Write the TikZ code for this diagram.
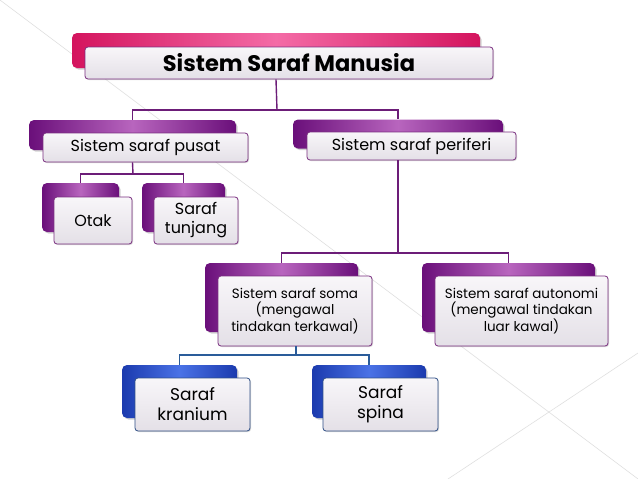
\documentclass[tikz,border=0pt]{standalone}
\usepackage{fontspec}
\setmainfont{Poppins}
\usetikzlibrary{shadows}
\definecolor{pinkD}{HTML}{D4145E}
\definecolor{pinkL}{HTML}{F46BA6}
\definecolor{purD}{HTML}{6A0F7A}
\definecolor{purL}{HTML}{B865BE}
\definecolor{bluD}{HTML}{1B3AAE}
\definecolor{bluL}{HTML}{4A72E6}
\definecolor{edgeP}{HTML}{7A2F80}
\definecolor{edgeB}{HTML}{2F4F86}
\definecolor{connP}{HTML}{6C1D78}
\definecolor{connB}{HTML}{2A5C9A}
\definecolor{faceT}{HTML}{F8F6F9}
\definecolor{faceB}{HTML}{E4E0E7}
\begin{document}
\begin{tikzpicture}[x=1pt,y=-1pt,
  backbox/.style={rounded corners=5pt, inner sep=0pt,
    drop shadow={opacity=0.35, shadow xshift=1.5pt, shadow yshift=-1.5pt}},
  backpink/.style={backbox, left color=pinkD, right color=pinkD, middle color=pinkL},
  backpur/.style={backbox, left color=purD, right color=purD, middle color=purL},
  backblu/.style={backbox, left color=bluD, right color=bluD, middle color=bluL},
  frontbox/.style={rounded corners=3pt, inner sep=0pt, top color=faceT, bottom color=faceB,
    draw=edgeP, line width=0.8pt, align=center, text=black,
    drop shadow={opacity=0.3, shadow xshift=1pt, shadow yshift=-1pt}},
  frontblu/.style={frontbox, draw=edgeB},
  ttl/.style={font=\fontsize{22.5}{24}\selectfont\bfseries},
  lvl/.style={font=\fontsize{16}{19}\selectfont},
  lvlb/.style={font=\fontsize{17}{20}\selectfont},
  sml/.style={font=\fontsize{13.5}{16}\selectfont},
  conn/.style={draw=connP, line width=1.4pt},
  connb/.style={draw=connB, line width=1.4pt}]
\useasboundingbox (0,0) rectangle (638,479);
\fill[white] (0,0) rectangle (638,479);
% faint background lines
\coordinate (bgA) at (0,0);
\coordinate (bgB) at (638,479);
\coordinate (bgC) at (638,353);
\coordinate (bgD) at (448,479);
\draw[black!12, line width=0.6pt] (bgA) -- (bgB);
\draw[black!12, line width=0.6pt] (bgC) -- (bgD);

% back boxes
\node[backpink, minimum width=408pt, minimum height=35pt] (titleB) at (276,50.5) {};
\node[backpur, minimum width=207pt, minimum height=30pt] (pusatB) at (132.5,135) {};
\node[backpur, minimum width=210pt, minimum height=29pt] (periB) at (398,134) {};
\node[backpur, minimum width=77pt, minimum height=49pt] (otakB) at (80.5,207.5) {};
\node[backpur, minimum width=83pt, minimum height=49pt] (tunB) at (183.5,207.5) {};
\node[backpur, minimum width=153pt, minimum height=69pt] (somaB) at (281.5,297.5) {};
\node[backpur, minimum width=173pt, minimum height=69pt] (autoB) at (508.5,297.5) {};
\node[backblu, minimum width=115pt, minimum height=53pt] (kranB) at (179.5,391.5) {};
\node[backblu, minimum width=114pt, minimum height=53pt] (spinB) at (369,391.5) {};

% front boxes
\node[frontbox, ttl, minimum width=408pt, minimum height=32pt] (title) at (289,63) {Sistem Saraf Manusia};
\node[frontbox, lvl, minimum width=205pt, minimum height=29pt] (pusat) at (145.5,147.5) {Sistem saraf pusat};
\node[frontbox, lvl, minimum width=209pt, minimum height=28pt] (peri) at (411.5,146) {Sistem saraf periferi};
\node[frontbox, lvl, minimum width=78pt, minimum height=47pt] (otak) at (93,220.5) {Otak};
\node[frontbox, lvl, minimum width=84pt, minimum height=47pt] (tun) at (196,220.5) {Saraf\\tunjang};
\node[frontbox, sml, minimum width=154pt, minimum height=70pt] (soma) at (295,311) {Sistem saraf soma\\(mengawal\\tindakan terkawal)};
\node[frontbox, sml, minimum width=173pt, minimum height=70pt] (auto) at (521.5,311) {Sistem saraf autonomi\\(mengawal tindakan\\luar kawal)};
\node[frontblu, lvlb, minimum width=115pt, minimum height=53pt] (kran) at (192.5,404.5) {Saraf\\kranium};
\node[frontblu, lvlb, minimum width=115pt, minimum height=53pt] (spin) at (380.5,404.5) {Saraf\\spina};

% connectors
\coordinate (j0) at (277,110);
\draw[conn] (titleB.center |- title.south) -- (j0);
\draw[conn] (pusatB.north) |- (j0) -| (periB.north);
\coordinate (j1) at (133,174);
\draw[conn] (pusatB.center |- pusat.south) -- (j1);
\draw[conn] (otakB.north) |- (j1) -| (tunB.north);
\coordinate (j2) at (398,253);
\draw[conn] (periB.center |- peri.south) -- (j2);
\draw[conn] (somaB.north) |- (j2) -| (autoB.north);
\coordinate (j3) at (296,355);
\draw[connb] (296,0 |- soma.south) -- (j3);
\draw[connb] (kranB.north) |- (j3) -| (spinB.north);
\end{tikzpicture}
\end{document}
